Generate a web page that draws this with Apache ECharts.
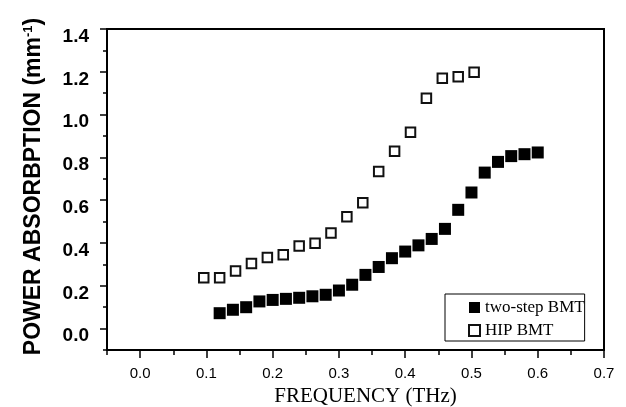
<!DOCTYPE html>
<html>
<head>
<meta charset="utf-8">
<script src="https://cdn.jsdelivr.net/npm/echarts@6/dist/echarts.min.js"></script>
<style>
    html, body { margin: 0; padding: 0; background: #fff; }
    #scatterChart { width: 626px; height: 407px; }
</style>
</head>
<body>
<div id="scatterChart"></div>
<script>
    // two-step BMT (filled squares)
    const twoStepFreq = [0.12, 0.14, 0.16, 0.18, 0.20, 0.22, 0.24, 0.26, 0.28, 0.30, 0.32, 0.34, 0.36,
        0.38, 0.40, 0.42, 0.44, 0.46, 0.48, 0.50, 0.52, 0.54, 0.56, 0.58, 0.60];
    const twoStepAbs = [0.072, 0.088, 0.100, 0.127, 0.134, 0.139, 0.144, 0.151, 0.158, 0.178, 0.205, 0.251, 0.288,
        0.329, 0.360, 0.389, 0.419, 0.466, 0.555, 0.636, 0.729, 0.779, 0.806, 0.815, 0.823];

    // HIP BMT (open squares)
    const hipFreq = [0.096, 0.120, 0.144, 0.168, 0.192, 0.216, 0.240, 0.264, 0.288, 0.312, 0.336, 0.360,
        0.384, 0.408, 0.432, 0.456, 0.480, 0.504];
    const hipAbs = [0.238, 0.238, 0.269, 0.304, 0.332, 0.345, 0.386, 0.399, 0.447, 0.523, 0.588, 0.734,
        0.829, 0.918, 1.076, 1.170, 1.177, 1.198];

    // tick labels
    const xTicks = [0, 0.1, 0.2, 0.3, 0.4, 0.5, 0.6, 0.7];
    const xMinorTicks = [-0.05, 0.05, 0.15, 0.25, 0.35, 0.45, 0.55, 0.65];
    const yTicks = [0, 0.2, 0.4, 0.6, 0.8, 1.0, 1.2, 1.4];
    const yMinorTicks = [-0.1, 0.1, 0.3, 0.5, 0.7, 0.9, 1.1, 1.3];

    const zip = (xs, ys) => xs.map((x, i) => [x, ys[i]]);

    const axisLine = { show: true, onZero: false, lineStyle: { color: '#000', width: 2 } };
    const hiddenLine = { show: false, onZero: false };

    const option = {
        animation: false,
        grid: {
            left: 107,
            right: 22,
            top: 29,
            bottom: 57,
            outerBoundsMode: 'none',
            show: true,
            borderColor: '#000',
            borderWidth: 2,
        },
        xAxis: [{
            type: 'value',
            min: -0.05,
            max: 0.7,
            axisLine,
            splitLine: { show: false },
            axisTick: {
                show: true,
                customValues: xTicks,
                length: 8,
                lineStyle: { color: '#000', width: 1.5 },
            },
            axisLabel: {
                customValues: xTicks,
                formatter: v => v.toFixed(1),
                color: '#000',
                fontFamily: 'Liberation Sans',
                fontSize: 15,
                margin: 16,
            },
            name: 'FREQUENCY (THz)',
            nameLocation: 'middle',
            nameGap: 36,
            nameTextStyle: {
                color: '#000',
                fontFamily: 'Liberation Serif',
                fontSize: 21,
                padding: [0, 0, 0, 20],
            },
        }, {
            type: 'value',
            position: 'bottom',
            min: -0.05,
            max: 0.7,
            axisLine: hiddenLine,
            splitLine: { show: false },
            axisLabel: { show: false },
            axisTick: {
                show: true,
                customValues: xMinorTicks,
                length: 5,
                lineStyle: { color: '#000', width: 1.5 },
            },
        }],
        yAxis: [{
            type: 'value',
            min: -0.1,
            max: 1.4,
            axisLine,
            splitLine: { show: false },
            axisTick: {
                show: true,
                customValues: yTicks,
                length: 7,
                lineStyle: { color: '#000', width: 1.5 },
            },
            axisLabel: {
                customValues: yTicks,
                formatter: v => v.toFixed(1),
                color: '#000',
                fontFamily: 'Liberation Sans',
                fontWeight: 'bold',
                fontSize: 19,
                margin: 18,
                verticalAlign: 'top',
                lineHeight: 15,
            },
            name: '{a|POWER ABSORBPTION (mm}{s|-1}{a|)}',
            nameLocation: 'middle',
            nameRotate: 90,
            nameGap: 62,
            nameTextStyle: {
                padding: [0, 0, 0, 6],
                rich: {
                    a: {
                        color: '#000',
                        fontFamily: 'Liberation Sans',
                        fontWeight: 'bold',
                        fontSize: 23,
                    },
                    s: {
                        color: '#000',
                        fontFamily: 'Liberation Sans',
                        fontWeight: 'bold',
                        fontSize: 13,
                        padding: [0, 0, 10, 0],
                    },
                },
            },
        }, {
            type: 'value',
            position: 'left',
            min: -0.1,
            max: 1.4,
            axisLine: hiddenLine,
            splitLine: { show: false },
            axisLabel: { show: false },
            axisTick: {
                show: true,
                customValues: yMinorTicks,
                length: 4,
                lineStyle: { color: '#000', width: 1.5 },
            },
        }],
        legend: {
            orient: 'vertical',
            left: 445,
            top: 294,
            padding: [5, 0, 2, 23],
            itemGap: 6,
            itemWidth: 11,
            itemHeight: 11,
            itemTextGap: 18,
            borderColor: '#000',
            borderWidth: 1,
            textStyle: {
                color: '#000',
                fontFamily: 'Liberation Serif',
                fontSize: 17,
                lineHeight: 14,
            },
            data: [
                { name: 'two-step BMT', icon: 'rect' },
                { name: 'HIP BMT', icon: 'rect' },
            ],
        },
        series: [{
            name: 'two-step BMT',
            type: 'scatter',
            symbol: 'rect',
            symbolSize: 12,
            itemStyle: { color: '#000', opacity: 1 },
            data: zip(twoStepFreq, twoStepAbs),
        }, {
            name: 'HIP BMT',
            type: 'scatter',
            symbol: 'rect',
            symbolSize: 9.5,
            itemStyle: { color: '#fff', borderColor: '#111', borderWidth: 2, opacity: 1 },
            data: zip(hipFreq, hipAbs),
        }],
    };

    const myChart = echarts.init(document.getElementById('scatterChart'));
    myChart.setOption(option);
</script>
</body>
</html>
